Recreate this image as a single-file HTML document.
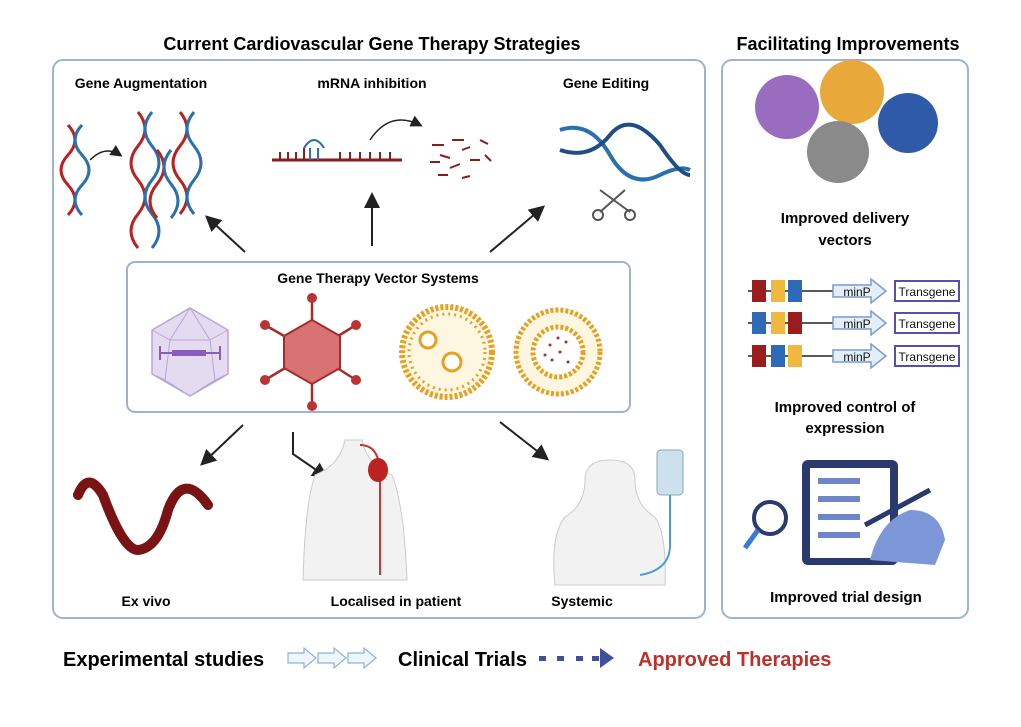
<!DOCTYPE html>
<html><head><meta charset="utf-8"><style>
body{margin:0;background:#fff;}
svg text{font-family:"Liberation Sans",Arial,sans-serif;}
</style></head><body>
<svg width="1021" height="722" viewBox="0 0 1021 722" xmlns="http://www.w3.org/2000/svg">
<defs>
<marker id="ah" markerWidth="8" markerHeight="8" refX="6" refY="4" orient="auto"><path d="M0,0L8,4L0,8z" fill="#222"/></marker>
</defs>
<rect width="1021" height="722" fill="#fff"/>
<text x="372" y="50" font-size="18" font-weight="bold" text-anchor="middle">Current Cardiovascular Gene Therapy Strategies</text>
<text x="848" y="50" font-size="18" font-weight="bold" text-anchor="middle">Facilitating Improvements</text>
<rect x="53" y="60" width="652" height="558" rx="10" fill="none" stroke="#9fb2d4" stroke-width="2"/>
<rect x="722" y="60" width="246" height="558" rx="10" fill="none" stroke="#9fb2d4" stroke-width="2"/>
<rect x="127" y="262" width="503" height="150" rx="8" fill="none" stroke="#9fb2d4" stroke-width="2"/>

<!-- DNA helices -->
<g fill="none" stroke-width="3">
<path d="M68,125 q14,15 0,30 q-14,15 0,30 q14,15 0,30" stroke="#b22"/>
<path d="M82,125 q-14,15 0,30 q14,15 0,30 q-14,15 0,30" stroke="#2a6fb0"/>
<path d="M138,112 q14,17 0,34 q-14,17 0,34 q14,17 0,34 q-14,17 0,34" stroke="#b22"/>
<path d="M152,112 q-14,17 0,34 q14,17 0,34 q-14,17 0,34 q14,17 0,34" stroke="#2a6fb0"/>
<path d="M157,150 q14,17 0,34 q-14,17 0,34" stroke="#b22"/>
<path d="M171,150 q-14,17 0,34 q14,17 0,34" stroke="#2a6fb0"/>
<path d="M180,112 q14,17 0,34 q-14,17 0,34 q14,17 0,34" stroke="#b22"/>
<path d="M194,112 q-14,17 0,34 q14,17 0,34 q-14,17 0,34" stroke="#2a6fb0"/>
<path d="M90,160 q15,-15 30,-5" stroke="#222" stroke-width="1.5" marker-end="url(#ah)"/>
</g>
<!-- mRNA -->
<g stroke="#8a1c1c" stroke-width="2" fill="none">
<line x1="272" y1="160" x2="402" y2="160" stroke-width="3"/>
<path d="M280,160v-8M288,160v-8M296,160v-8M304,160v-12M340,160v-8M350,160v-8M360,160v-8M370,160v-8M380,160v-8M390,160v-8"/>
<path d="M304,148 q10,-16 20,0" stroke="#2a6fb0"/>
<path d="M310,160v-12M318,160v-12" stroke="#2a6fb0"/>
<path d="M370,140 q20,-30 50,-15" stroke="#222" stroke-width="1.5" marker-end="url(#ah)"/>
<path d="M432,145h12M440,155l10,3M452,140h12M462,150l8,-3M430,162h10M450,168l10,-4M470,160h10M480,140l8,4M438,175h10M462,178l8,-2M485,155l6,6"/>
</g>
<!-- gene editing -->
<g fill="none" stroke-width="4">
<path d="M560,130 q30,-10 50,25 q20,35 50,20 q20,-10 30,-5" stroke="#2a6fb0"/>
<path d="M560,150 q30,10 50,-15 q20,-25 50,10 q20,30 30,30" stroke="#1f4f82"/>
<path d="M600,190 l30,22 M625,190 l-25,22" stroke="#555" stroke-width="2"/>
<circle cx="598" cy="215" r="5" stroke="#555" stroke-width="2"/><circle cx="630" cy="215" r="5" stroke="#555" stroke-width="2"/>
</g>

<!-- arrows -->
<g stroke="#222" stroke-width="2" fill="none" marker-end="url(#ah)">
<line x1="245" y1="252" x2="208" y2="218"/>
<line x1="372" y1="246" x2="372" y2="196"/>
<line x1="490" y1="252" x2="542" y2="208"/>
<line x1="243" y1="425" x2="203" y2="463"/>
<path d="M293,432 v22 l32,22"/>
<line x1="500" y1="422" x2="546" y2="458"/>
</g>

<!-- vectors -->
<polygon points="190,308 228,330 228,374 190,396 152,374 152,330" fill="#e4dbf0" stroke="#b7a6d3" stroke-width="1.5"/>
<path d="M190,308 L170,340 L210,340 Z M152,330 L170,340 M228,330 L210,340 M170,340 L165,380 L190,396 L215,380 L210,340 M152,374 L165,380 M228,374 L215,380" fill="none" stroke="#b7a6d3"/>
<rect x="172" y="350" width="34" height="6" fill="#8a5cc0"/><path d="M160,346v14M220,346v14M160,353h12M206,353h14" stroke="#8a5cc0" stroke-width="2"/>
<g stroke="#a82c2c" stroke-width="2.5">
<line x1="312" y1="352" x2="312" y2="298"/><line x1="312" y1="352" x2="312" y2="406"/>
<line x1="312" y1="352" x2="265" y2="325"/><line x1="312" y1="352" x2="356" y2="325"/>
<line x1="312" y1="352" x2="265" y2="380"/><line x1="312" y1="352" x2="356" y2="380"/>
</g>
<g fill="#b33">
<circle cx="312" cy="298" r="5"/><circle cx="312" cy="406" r="5"/><circle cx="265" cy="325" r="5"/><circle cx="356" cy="325" r="5"/><circle cx="265" cy="380" r="5"/><circle cx="356" cy="380" r="5"/>
</g>
<polygon points="312,320 340,336 340,368 312,384 284,368 284,336" fill="#d97272" stroke="#a82c2c" stroke-width="2"/>
<circle cx="447" cy="352" r="45" fill="#fdf6e0" stroke="#e8a020" stroke-width="6" stroke-dasharray="3 2"/>
<circle cx="447" cy="352" r="38" fill="none" stroke="#e8a020" stroke-width="3" stroke-dasharray="2 4"/>
<circle cx="428" cy="340" r="8" fill="#fff" stroke="#e8a020" stroke-width="3"/>
<circle cx="452" cy="362" r="9" fill="#fff" stroke="#e8a020" stroke-width="3"/>
<circle cx="558" cy="352" r="42" fill="#fdf6e0" stroke="#e8a020" stroke-width="5" stroke-dasharray="3 2"/>
<circle cx="558" cy="352" r="25" fill="#fff" stroke="#e8a020" stroke-width="5" stroke-dasharray="3 2"/>
<g fill="#a03040"><circle cx="550" cy="345" r="1.5"/><circle cx="560" cy="352" r="1.5"/><circle cx="566" cy="342" r="1.5"/><circle cx="552" cy="360" r="1.5"/><circle cx="568" cy="362" r="1.5"/><circle cx="558" cy="338" r="1.5"/><circle cx="545" cy="355" r="1.5"/></g>

<!-- bottom row -->
<path d="M78,495 q10,-25 25,0 q20,55 35,55 q20,-2 30,-40 q15,-40 40,-5" fill="none" stroke="#7a1414" stroke-width="10" stroke-linecap="round"/>
<path d="M345,440 q-5,25 -30,35 q-10,30 -12,105 h104 q-3,-75 -15,-105 q-25,-10 -30,-35 z" fill="#f2f2f2" stroke="#ccc"/>
<path d="M360,445 q20,0 20,30 v100" fill="none" stroke="#c33" stroke-width="2"/>
<ellipse cx="378" cy="470" rx="10" ry="12" fill="#b22"/>
<path d="M555,585 q-5,-50 10,-68 q20,-12 20,-37 q0,-20 25,-20 q25,0 25,20 q0,25 20,37 q12,18 10,68 z" fill="#f2f2f2" stroke="#ccc"/>
<rect x="657" y="450" width="26" height="45" rx="4" fill="#cde0ee" stroke="#8aa"/>
<path d="M670,495 v50 q0,25 -30,30" fill="none" stroke="#4a9fd0" stroke-width="2"/>

<g font-size="14" font-weight="bold" text-anchor="middle">
<text x="141" y="88">Gene Augmentation</text>
<text x="372" y="88">mRNA inhibition</text>
<text x="606" y="88">Gene Editing</text>
<text x="378" y="283">Gene Therapy Vector Systems</text>
<text x="146" y="606">Ex vivo</text>
<text x="396" y="606">Localised in patient</text>
<text x="582" y="606">Systemic</text>
<text x="845" y="223" font-size="15">Improved delivery</text>
<text x="845" y="245" font-size="15">vectors</text>
<text x="845" y="412" font-size="15">Improved control of</text>
<text x="845" y="433" font-size="15">expression</text>
<text x="846" y="602" font-size="15">Improved trial design</text>
</g>

<!-- right box blobs -->
<circle cx="787" cy="107" r="32" fill="#9a6cc0"/>
<circle cx="852" cy="92" r="32" fill="#e8a83a"/>
<circle cx="908" cy="123" r="30" fill="#2f5aa8"/>
<circle cx="838" cy="152" r="31" fill="#8a8a8a"/>

<!-- promoter rows -->
<g>
<line x1="748" y1="291" x2="833" y2="291" stroke="#222" stroke-width="1.5"/>
<line x1="748" y1="323" x2="833" y2="323" stroke="#222" stroke-width="1.5"/>
<line x1="748" y1="356" x2="833" y2="356" stroke="#222" stroke-width="1.5"/>
<rect x="752" y="280" width="14" height="22" fill="#9a1c1c"/><rect x="771" y="280" width="14" height="22" fill="#f0b840"/><rect x="788" y="280" width="14" height="22" fill="#2f6ab8"/>
<rect x="752" y="312" width="14" height="22" fill="#2f6ab8"/><rect x="771" y="312" width="14" height="22" fill="#f0b840"/><rect x="788" y="312" width="14" height="22" fill="#9a1c1c"/>
<rect x="752" y="345" width="14" height="22" fill="#9a1c1c"/><rect x="771" y="345" width="14" height="22" fill="#2f6ab8"/><rect x="788" y="345" width="14" height="22" fill="#f0b840"/>
<g fill="#e3eef9" stroke="#7a9cc8" stroke-width="1.5">
<path d="M833,285h38v-6l15,12l-15,12v-6h-38z"/>
<path d="M833,317h38v-6l15,12l-15,12v-6h-38z"/>
<path d="M833,350h38v-6l15,12l-15,12v-6h-38z"/>
</g>
<g fill="#fff" stroke="#5a4ea8" stroke-width="2">
<rect x="895" y="281" width="64" height="20"/><rect x="895" y="313" width="64" height="20"/><rect x="895" y="346" width="64" height="20"/>
</g>
<g font-size="12" text-anchor="middle" fill="#111">
<text x="857" y="296">minP</text><text x="857" y="328">minP</text><text x="857" y="361">minP</text>
<text x="927" y="296">Transgene</text><text x="927" y="328">Transgene</text><text x="927" y="361">Transgene</text>
</g>
</g>

<!-- trial design -->
<rect x="802" y="460" width="96" height="105" rx="6" fill="#2b3a6e"/>
<rect x="810" y="468" width="80" height="90" fill="#fff"/>
<g fill="#6f87c8"><rect x="818" y="478" width="42" height="6"/><rect x="818" y="496" width="42" height="6"/><rect x="818" y="514" width="42" height="6"/><rect x="818" y="532" width="42" height="6"/></g>
<circle cx="770" cy="518" r="16" fill="#fff" stroke="#2b3a6e" stroke-width="4"/>
<line x1="758" y1="530" x2="745" y2="548" stroke="#3a7bd5" stroke-width="5"/>
<path d="M870,560 q10,-40 40,-50 q30,0 35,30 l-10,25 z" fill="#7d96d8"/>
<line x1="865" y1="525" x2="930" y2="490" stroke="#2b3a6e" stroke-width="5"/>

<!-- bottom legend -->
<text x="63" y="666" font-size="20" font-weight="bold">Experimental studies</text>
<g fill="#eef5fc" stroke="#8fb2d8" stroke-width="1.2">
<path d="M288,653h16v-5l12,10l-12,10v-5h-16z"/>
<path d="M318,653h16v-5l12,10l-12,10v-5h-16z"/>
<path d="M348,653h16v-5l12,10l-12,10v-5h-16z"/>
</g>
<text x="398" y="666" font-size="20" font-weight="bold">Clinical Trials</text>
<g fill="#3f519c"><rect x="539" y="656" width="7" height="5"/><rect x="557" y="656" width="7" height="5"/><rect x="576" y="656" width="7" height="5"/><rect x="592" y="656" width="7" height="5"/><path d="M600,648l14,10l-14,10z"/></g>
<text x="638" y="666" font-size="20" font-weight="bold" fill="#c0302a">Approved Therapies</text>
</svg>
</body></html>
